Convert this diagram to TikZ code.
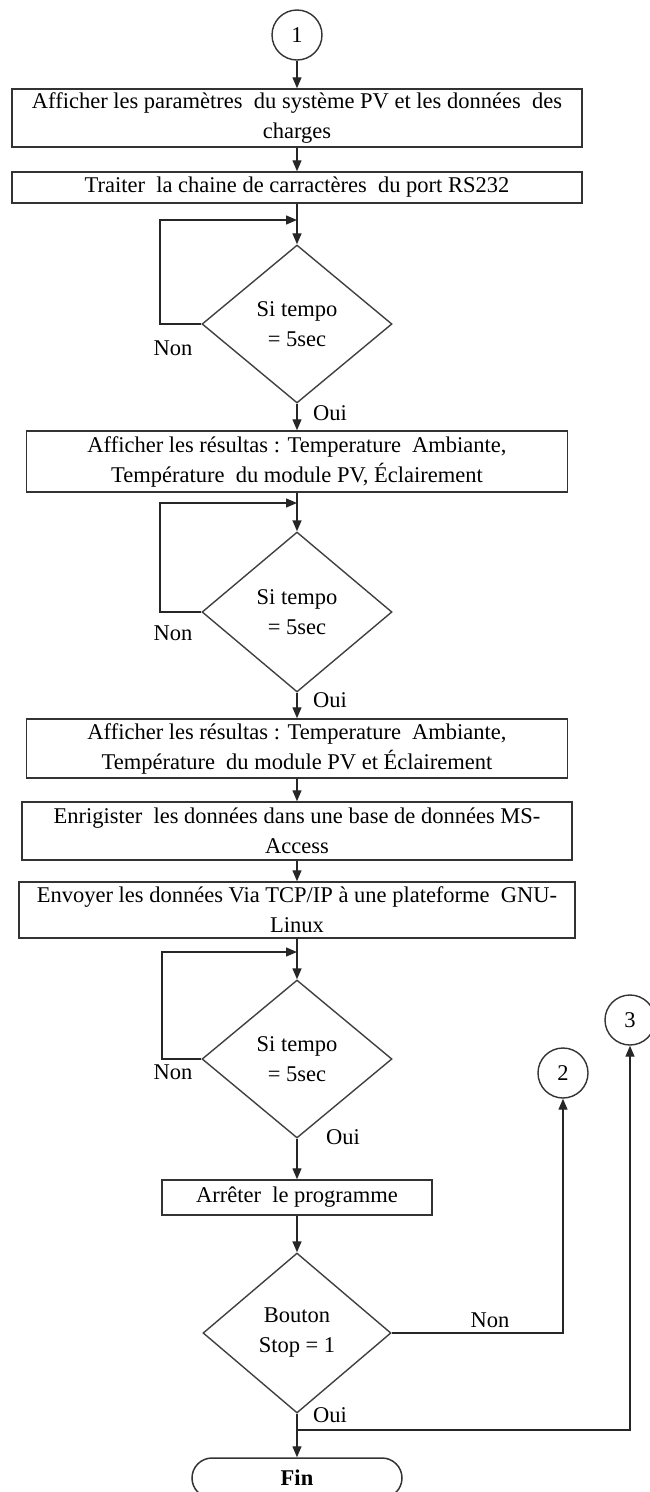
\documentclass[tikz,border=0pt]{standalone}
\usepackage{fontspec}
\setmainfont{Liberation Serif}
\usetikzlibrary{shapes.geometric,shapes.misc,arrows.meta}
\begin{document}
\begin{tikzpicture}[x=1pt,y=-1pt,
  every node/.style={font=\fontsize{22.5}{30}\selectfont},
  procbox/.style={draw=black!80,line width=1.5pt,rectangle,align=center,inner sep=1pt},
  decision/.style={draw=black!75,line width=1.4pt,diamond,minimum width=190pt,minimum height=158pt,inner sep=0pt,align=center},
  conn/.style={draw=black!80,line width=1.4pt,circle,minimum size=50pt,inner sep=0pt},
  lbl/.style={inner sep=0pt},
  arr/.style={draw=black!85,line width=1.4pt,-{Triangle[length=11pt,width=9pt]}},
  ln/.style={draw=black!85,line width=1.4pt}]
\useasboundingbox (0,0) rectangle (650,1492);

\node[conn] (c1) at (297,35) {1};
\node[procbox,minimum width=570pt,minimum height=58pt] (b1) at (297,118)
  {Afficher les paramètres \ du système PV et les données \ des\\charges};
\node[procbox,minimum width=570pt,minimum height=31pt] (b2) at (297,187.5)
  {Traiter \ la chaine de carractères \ du port RS232};
\node[decision] (d1) at (297,324) {Si tempo\\= 5sec};
\node[procbox,minimum width=541pt,minimum height=61pt] (b3) at (297,461.5)
  {Afficher les résultas : Temperature \ Ambiante,\\Température \ du module PV, Éclairement};
\node[decision,minimum height=160pt] (d2) at (297,612) {Si tempo\\= 5sec};
\node[procbox,minimum width=541pt,minimum height=59pt] (b4) at (297,748.5)
  {Afficher les résultas : Temperature \ Ambiante,\\Température \ du module PV et Éclairement};
\node[procbox,minimum width=550pt,minimum height=58pt] (b5) at (297,831)
  {Enrigister \ les données dans une base de données MS-\\Access};
\node[procbox,minimum width=556pt,minimum height=56pt] (b6) at (297,910)
  {Envoyer les données Via TCP/IP à une plateforme \ GNU-\\Linux};
\node[decision] (d3) at (297,1059) {Si tempo\\= 5sec};
\node[procbox,minimum width=270pt,minimum height=35pt] (b7) at (297,1197.5)
  {Arrêter \ le programme};
\node[decision,minimum width=188pt,minimum height=160pt] (d4) at (297,1333) {Bouton\\Stop = 1};
\node[draw=black!80,line width=1.5pt,rounded rectangle,minimum width=210pt,minimum height=40pt,inner sep=0pt,font=\fontsize{22.5}{30}\selectfont\bfseries] (fin) at (297,1478) {Fin};
\node[conn] (c2) at (563,1073) {2};
\node[conn] (c3) at (630,1020) {3};

% labels
\node[lbl] (n1) at (173,348) {Non};
\node[lbl] (o1) at (330,413) {Oui};
\node[lbl] (n2) at (173,633) {Non};
\node[lbl] (o2) at (330,700) {Oui};
\node[lbl] (n3) at (173,1072) {Non};
\node[lbl] (o3) at (343,1137) {Oui};
\node[lbl] (n4) at (490,1320) {Non};
\node[lbl] (o4) at (330,1415) {Oui};

% loop coordinates
\coordinate (l1) at (160,220);
\coordinate (m1) at (297,220);
\coordinate (l2) at (160,503);
\coordinate (m2) at (297,503);
\coordinate (l3) at (162,952);
\coordinate (m3) at (297,952);
\coordinate (j4) at (297,1430);

% connectors
\draw[arr] (c1) -- (b1);
\draw[arr] (b1) -- (b2);
\draw[arr] (b2) -- (d1);
\draw[arr] (d1.west) -| (l1) -- (m1);
\draw[arr] (d1) -- (b3);
\draw[arr] (b3) -- (d2);
\draw[arr] (d2.west) -| (l2) -- (m2);
\draw[arr] (d2) -- (b4);
\draw[arr] (b4) -- (b5);
\draw[arr] (b5) -- (b6);
\draw[arr] (b6) -- (d3);
\draw[arr] (d3.west) -| (l3) -- (m3);
\draw[arr] (d3) -- (b7);
\draw[arr] (b7) -- (d4);
\draw[arr] (d4) -- (fin);
\draw[arr] (d4.east) -| (c2.south);
\draw[arr] (j4) -| (c3.south);
\end{tikzpicture}
\end{document}
